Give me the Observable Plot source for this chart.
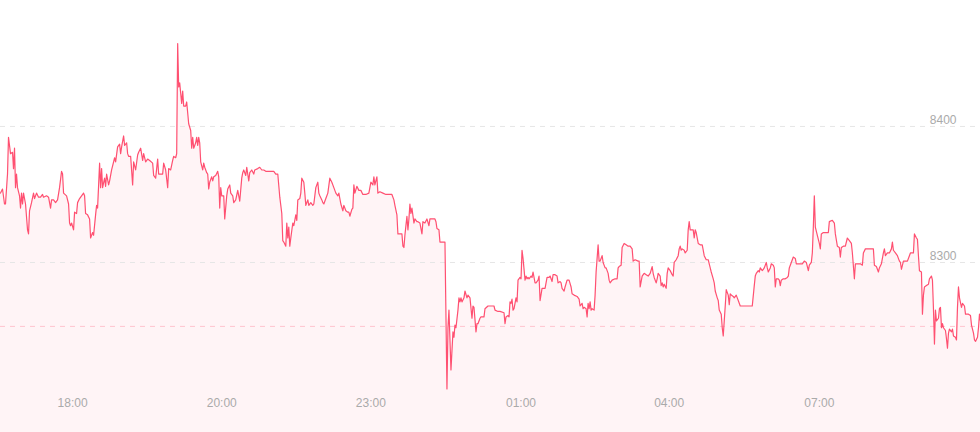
<!DOCTYPE html>
<html><head><meta charset="utf-8">
<script src="https://cdn.jsdelivr.net/npm/d3@7"></script>
<script src="https://cdn.jsdelivr.net/npm/@observablehq/plot@0.6"></script>
<style>html,body{margin:0;padding:0;background:#fff;overflow:hidden}</style>
</head><body><div id="chart"></div>
<script>
// [sample index, price]
const series = [
[0,8351],[2,8354],[4,8343],[5,8343],[7,8365],[8,8392],[10,8380],[12,8381],[13,8369],[14,8384],[15,8355],[16,8365],[17,8355],[19,8349],[20,8340],[21,8351],[22,8343],[23,8351],[25,8343],[27,8324],[28,8321],[29,8338],[31,8344],[33,8351],[34,8347],[36,8351],[38,8348],[40,8348],[42,8350],[43,8348],[46,8349],[48,8348],[50,8340],[51,8346],[53,8346],[55,8344],[57,8346],[59,8355],[61,8367],[62,8365],[63,8351],[66,8349],[68,8343],[69,8329],[70,8327],[71,8329],[73,8324],[74,8337],[76,8336],[77,8344],[79,8347],[81,8349],[83,8351],[84,8349],[85,8336],[87,8335],[89,8332],[90,8318],[92,8322],[93,8320],[95,8335],[96,8342],[97,8340],[99,8373],[100,8355],[101,8369],[102,8355],[104,8362],[105,8356],[106,8365],[108,8357],[109,8360],[111,8368],[113,8374],[114,8377],[115,8374],[117,8385],[119,8387],[120,8380],[121,8385],[123,8393],[124,8386],[126,8388],[127,8380],[128,8378],[130,8378],[132,8357],[133,8374],[135,8368],[137,8379],[138,8381],[140,8384],[142,8375],[143,8380],[145,8374],[147,8376],[149,8375],[152,8373],[153,8364],[155,8362],[157,8376],[158,8365],[160,8365],
[162,8365],[163,8373],[165,8368],[167,8355],[168,8369],[170,8368],[172,8375],[173,8378],[175,8377],[176,8380],[177,8461],[178,8429],[179,8432],[181,8417],[182,8426],[183,8415],[185,8415],[186,8418],[188,8402],[190,8397],[191,8384],[192,8392],[193,8384],[195,8388],[196,8392],[197,8386],[198,8392],[199,8388],[200,8374],[202,8368],[203,8373],[204,8370],[206,8366],[207,8365],[208,8354],[209,8359],[211,8363],[212,8360],[213,8363],[215,8364],[217,8367],[218,8363],[219,8340],[220,8355],[221,8349],[223,8349],[224,8332],[226,8349],[227,8354],[229,8357],[230,8351],[232,8349],[233,8344],[235,8346],[237,8353],[238,8349],[239,8345],[241,8362],[242,8366],[243,8368],[245,8364],[246,8370],[248,8360],[249,8366],[251,8368],[253,8365],[254,8368],[257,8369],[259,8370],[261,8368],[263,8368],[265,8367],[267,8367],[270,8367],[273,8367],[275,8365],[277,8365],[279,8348],[281,8336],[282,8316],[283,8315],[285,8312],[286,8329],[287,8318],[288,8326],[289,8312],[290,8318],[292,8329],[293,8327],[295,8335],[296,8331],[297,8346],[299,8347],[300,8351],[301,8362],[303,8359],[304,8351],[305,8342],[307,8346],[308,8342],[310,8344],[312,8342],[313,8343],[315,8355],[317,8359],[318,8351],[319,8349],[321,8346],[322,8344],
[323,8343],[325,8347],[327,8351],[329,8362],[331,8359],[333,8355],[334,8353],[335,8351],[337,8349],[338,8351],[340,8343],[342,8338],[343,8342],[345,8338],[347,8337],[348,8337],[349,8334],[351,8339],[352,8340],[353,8357],[354,8351],[356,8356],[358,8353],[360,8353],[362,8350],[365,8350],[368,8351],[370,8359],[372,8357],[373,8363],[374,8357],[376,8363],[377,8351],[379,8352],[382,8351],[385,8350],[388,8350],[391,8350],[393,8346],[394,8342],[396,8335],[397,8321],[399,8321],[401,8321],[402,8312],[403,8311],[404,8320],[406,8334],[407,8324],[408,8332],[409,8343],[410,8336],[411,8340],[413,8329],[414,8332],[416,8330],[417,8330],[419,8329],[421,8321],[422,8330],[424,8329],[426,8332],[428,8327],[429,8332],[432,8332],[434,8332],[435,8330],[436,8325],[438,8324],[439,8315],[441,8315],[444,8315],[446,8207],[447,8252],[448,8265],[449,8243],[450,8221],[451,8235],[452,8249],[453,8245],[454,8254],[455,8252],[457,8265],[458,8274],[459,8271],[460,8274],[461,8271],[463,8274],[464,8279],[466,8274],[467,8276],[469,8274],[471,8259],[472,8268],[473,8267],[475,8249],[476,8255],[477,8255],[479,8259],
[480,8260],[483,8260],[484,8266],[487,8268],[490,8268],[493,8268],[494,8265],[497,8264],[499,8264],[503,8263],[504,8255],[505,8260],[507,8261],[508,8260],[509,8271],[510,8270],[511,8273],[512,8265],[513,8266],[515,8274],[516,8271],[517,8287],[519,8289],[520,8288],[521,8309],[522,8303],[524,8287],[525,8290],[526,8288],[527,8289],[528,8288],[530,8290],[531,8289],[532,8293],[534,8285],[535,8285],[537,8287],[538,8290],[539,8272],[541,8281],[543,8281],[544,8281],[546,8289],[548,8289],[549,8290],[551,8286],[552,8291],[554,8291],[556,8290],[557,8285],[559,8286],[560,8285],[561,8281],[563,8279],[564,8282],[566,8287],[568,8287],[570,8282],[571,8277],[573,8276],[576,8275],[578,8273],[579,8268],[581,8270],[582,8266],[583,8267],[585,8266],[586,8260],[587,8270],[588,8266],[589,8271],[590,8265],[591,8266],[593,8265],[594,8276],[595,8293],[597,8313],[598,8301],[599,8301],[601,8305],[602,8300],[604,8296],[605,8296],[607,8292],[608,8287],[609,8285],[611,8287],[614,8288],[616,8288],[617,8296],[618,8297],[620,8298],[621,8311],[623,8314],[625,8313],[627,8312],[629,8312],[631,8310],[632,8301],[634,8302],[637,8301],[638,8301],[639,8282],[641,8290],[643,8292],
[645,8291],[647,8290],[649,8292],[651,8297],[652,8292],[653,8289],[655,8285],[656,8288],[657,8292],[659,8290],[660,8283],[661,8285],[662,8282],[663,8284],[665,8281],[666,8292],[667,8296],[669,8294],[671,8291],[672,8290],[673,8300],[675,8302],[677,8305],[678,8310],[679,8312],[680,8309],[681,8310],[683,8309],[684,8307],[686,8309],[687,8324],[688,8330],[689,8324],[691,8324],[692,8324],[693,8318],[694,8324],[695,8322],[697,8314],[699,8313],[701,8313],[702,8309],[703,8305],[705,8302],[707,8302],[708,8299],[709,8296],[710,8293],[712,8288],[713,8285],[714,8279],[716,8274],[717,8272],[718,8265],[720,8262],[721,8252],[722,8246],[723,8257],[724,8268],[725,8280],[727,8276],[728,8269],[729,8277],[730,8276],[732,8275],[733,8274],[735,8276],[736,8274],[737,8272],[739,8268],[742,8268],[745,8268],[748,8268],[751,8268],[753,8283],[754,8290],[755,8292],[757,8294],[758,8293],[759,8296],[761,8294],[762,8295],[763,8296],[765,8300],[766,8296],[767,8293],[769,8296],[770,8299],[772,8298],[773,8296],[774,8282],[775,8288],[777,8288],[778,8287],[779,8283],[780,8287],[782,8288],[784,8288],[786,8289],[787,8290],[788,8296],[789,8298],[791,8302],[792,8304],[794,8303],[795,8299],[797,8299],[799,8299],[801,8299],[803,8301],
[805,8300],[807,8294],[808,8298],[810,8300],[811,8307],[812,8326],[813,8349],[814,8326],[816,8320],[818,8314],[819,8310],[820,8321],[822,8322],[824,8322],[827,8322],[828,8330],[831,8331],[833,8329],[834,8321],[836,8312],[838,8311],[839,8304],[840,8311],[842,8312],[844,8312],[846,8318],[848,8316],[850,8314],[851,8307],[853,8288],[854,8299],[857,8299],[859,8299],[861,8298],[862,8307],[864,8310],[867,8310],[870,8310],[872,8310],[873,8298],[875,8297],[877,8293],[878,8296],[880,8299],[882,8307],[883,8310],[884,8305],[886,8307],[888,8307],[890,8310],[891,8315],[892,8309],[894,8307],[896,8305],[898,8301],[899,8300],[900,8295],[902,8301],[904,8301],[906,8301],[908,8305],[909,8307],[911,8307],[912,8307],[913,8321],[915,8318],[916,8317],[917,8305],[918,8294],[920,8293],[921,8262],[922,8276],[923,8282],[925,8283],[927,8284],[928,8288],[930,8290],[931,8287],[932,8266],[933,8240],[934,8265],[935,8257],[937,8259],[938,8266],[939,8267],[940,8252],[941,8255],[942,8252],[944,8250],[945,8244],[946,8237],[947,8248],[948,8251],[950,8249],[951,8251],[952,8246],[954,8245],[955,8243],[956,8267],[957,8282],[958,8274],[960,8267],[961,8270],[963,8268],[964,8262],[965,8262],[967,8262],[969,8261],[970,8254],[972,8248],[973,8243],[974,8242],[976,8245],[977,8252],[978,8262],[979,8257]
];
const timeTickIndex = [72, 221, 370, 520, 668, 818];
const timeTickLabel = ["18:00", "20:00", "23:00", "01:00", "04:00", "07:00"];
const priceTicks = [8300, 8400];
const refPrice = 8253;
const yDomain = [8175, 8492.6];
const xDomain = [0, 979];

const data = series.map(([i, p]) => ({i, p}));

const chart = Plot.plot({
  width: 980,
  height: 432,
  margin: 0,
  x: {domain: xDomain, axis: null},
  y: {domain: yDomain, axis: null},
  style: {background: "#ffffff", fontFamily: "'Liberation Sans', Arial, sans-serif", fontSize: "12px"},
  marks: [
    Plot.areaY(data, {x: "i", y1: yDomain[0], y2: "p", fill: "#fff4f6"}),
    Plot.ruleY(priceTicks, {stroke: "#e6e6e6", strokeDasharray: "5,5"}),
    Plot.ruleY([refPrice], {stroke: "#ffc4cf", strokeDasharray: "5,5"}),
    Plot.lineY(data, {x: "i", y: "p", stroke: "#ff5071", strokeWidth: 1.2}),
    Plot.text(priceTicks, {y: d => d, text: d => String(d), frameAnchor: "right", textAnchor: "end", dx: -24, dy: -6, fill: "#aaaaaa"}),
    Plot.text(timeTickIndex, {x: d => d, text: (d, k) => timeTickLabel[k], frameAnchor: "bottom", dy: -26, fill: "#aaaaaa"})
  ]
});
document.getElementById("chart").appendChild(chart);
</script>
</body></html>
